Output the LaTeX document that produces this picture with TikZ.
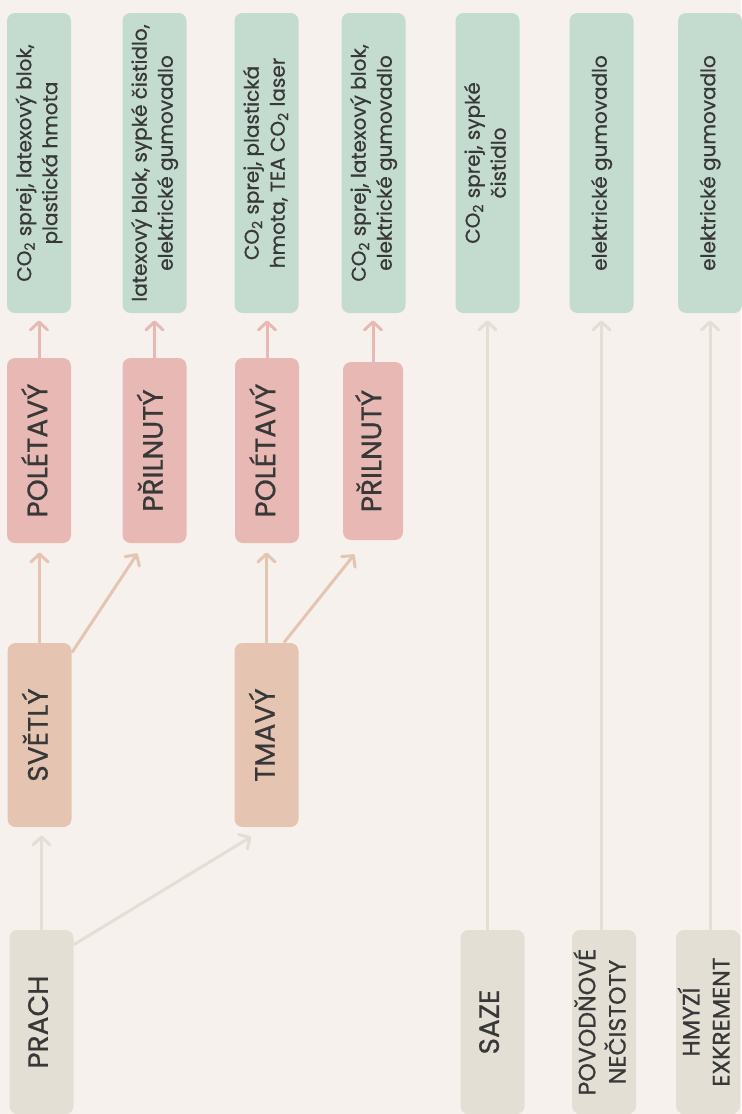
\documentclass[tikz,border=0pt]{standalone}
\usepackage{fontspec}
\setmainfont{Poppins}
\newfontfamily\medfont{Poppins}[FakeBold=0.7]
\usetikzlibrary{arrows.meta,calc}

\definecolor{bgcol}{HTML}{F6F1ED}
\definecolor{toolcol}{HTML}{C3DCCF}
\definecolor{kindcol}{HTML}{E8B9B4}
\definecolor{shadecol}{HTML}{E5C5B2}
\definecolor{dirtcol}{HTML}{E4DFD4}
\definecolor{txtcol}{HTML}{383838}

% text turned up, width of the box not counted
\newcommand{\uptext}[1]{\rotatebox{90}{\makebox[0pt]{\begin{tabular}{@{}c@{}}#1\end{tabular}}}}

\tikzset{
  box/.style={rounded corners=4pt, minimum width=32pt, inner sep=0pt, text=txtcol},
  tool/.style={box, fill=toolcol, minimum height=150pt, font=\medfont\fontsize{10}{13}\selectfont},
  kind/.style={box, fill=kindcol, minimum height=92.5pt, font=\medfont\fontsize{14}{16}\selectfont},
  shade/.style={box, fill=shadecol, minimum height=92pt, font=\medfont\fontsize{14}{16}\selectfont},
  dirt/.style={box, fill=dirtcol, minimum height=92pt, font=\medfont\fontsize{14}{16}\selectfont},
  small/.style={font=\medfont\fontsize{11.8}{15}\selectfont},
  arr/.style={line width=1.5pt, -{Straight Barb[length=4pt,width=8.5pt,round]}, shorten >=3.5pt},
}

\begin{document}
\begin{tikzpicture}[x=0.5pt,y=-0.5pt]
  \fill[bgcol] (0,0) rectangle (741,1114);
  \useasboundingbox (0,0) rectangle (741,1114);

  % green boxes on top
  \node[tool] (g1) at (39,163) {\uptext{CO\textsubscript{2} sprej, latexový blok,\\plastická hmota}};
  \node[tool] (g2) at (154.5,163) {\uptext{latexový blok, sypké čistidlo,\\elektrické gumovadlo}};
  \node[tool] (g3) at (266.5,163) {\uptext{CO\textsubscript{2} sprej, plastická\\hmota, TEA CO\textsubscript{2} laser}};
  \node[tool] (g4) at (373.5,163) {\uptext{CO\textsubscript{2} sprej, latexový blok,\\elektrické gumovadlo}};
  \node[tool] (g5) at (487.5,163) {\uptext{CO\textsubscript{2} sprej, sypké\\čistidlo}};
  \node[tool] (g6) at (601.5,163) {\uptext{elektrické gumovadlo}};
  \node[tool] (g7) at (710,163) {\uptext{elektrické gumovadlo}};

  % pink ones
  \node[kind] (p1) at (39,450.5) {\uptext{POLÉTAVÝ}};
  \node[kind] (p2) at (154.5,450.5) {\uptext{PŘILNUTÝ}};
  \node[kind] (p3) at (267,450.5) {\uptext{POLÉTAVÝ}};
  \node[kind, minimum width=30pt, minimum height=89pt] (p4) at (373,451) {\uptext{PŘILNUTÝ}};

  \node[shade] (svetly) at (39.5,735) {\uptext{SVĚTLÝ}};
  \node[shade] (tmavy) at (266.5,735) {\uptext{TMAVÝ}};

  % bottom row
  \node[dirt] (prach) at (41.5,1022) {\uptext{PRACH}};
  \node[dirt] (saze) at (492.5,1022) {\uptext{SAZE}};
  \node[dirt, small] (povod) at (604,1022) {\uptext{POVODŇOVÉ\\NEČISTOTY}};
  \node[dirt, small] (hmyz) at (708,1022) {\uptext{HMYZÍ\\EXKREMENT}};

  \foreach \a/\b in {p1/g1,p2/g2,p3/g3,p4/g4}
    \draw[arr, kindcol] (\a.north) -- (\a.north |- \b.south);

  \foreach \a/\b in {saze/g5,povod/g6,hmyz/g7}
    \draw[arr, dirtcol] (\b.south |- \a.north) -- (\b.south);

  \draw[arr, shadecol, shorten >=4.5pt] (svetly.north) -- (svetly.north |- p1.south);
  \draw[arr, shadecol, shorten >=6pt] ($(svetly.north east)+(0,10)$) -- ($(p2.south west)+(22,0)$);
  \draw[arr, shadecol, shorten >=4.5pt] (tmavy.north) -- (tmavy.north |- p3.south);
  \draw[arr, shadecol, shorten >=9pt] ($(tmavy.north east)+(-15,0)$) -- ($(p4.south west)+(23,0)$);

  \draw[arr, dirtcol, shorten >=4pt] (prach.north) -- (prach.north |- svetly.south);
  \draw[arr, dirtcol, shorten >=9pt] ($(prach.north east)+(0,15)$) -- (tmavy.south);
\end{tikzpicture}
\end{document}
